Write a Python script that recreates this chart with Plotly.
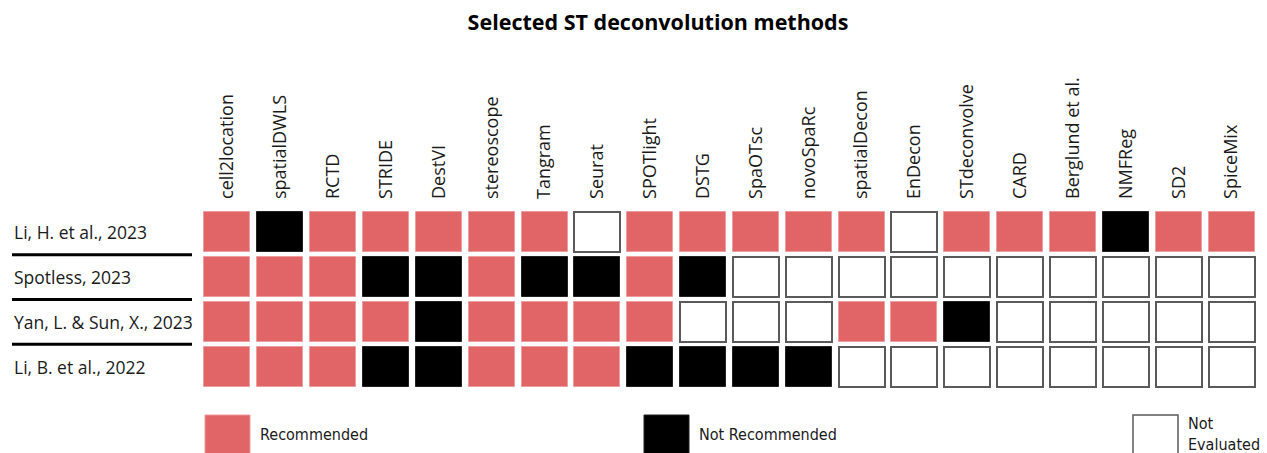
import plotly.graph_objects as go

# ---------------- data ----------------
methods = ["cell2location", "spatialDWLS", "RCTD", "STRIDE", "DestVI", "stereoscope",
           "Tangram", "Seurat", "SPOTlight", "DSTG", "SpaOTsc", "novoSpaRc",
           "spatialDecon", "EnDecon", "STdeconvolve", "CARD", "Berglund et al.",
           "NMFReg", "SD2", "SpiceMix"]
studies = ["Li, H. et al., 2023", "Spotless, 2023", "Yan, L. & Sun, X., 2023", "Li, B. et al., 2022"]
# R = Recommended, N = Not Recommended, E = Not Evaluated
status_li_h = ["R", "N", "R", "R", "R", "R", "R", "E", "R", "R", "R", "R", "R", "E", "R", "R", "R", "N", "R", "R"]
status_spotless = ["R", "R", "R", "N", "N", "R", "N", "N", "R", "N", "E", "E", "E", "E", "E", "E", "E", "E", "E", "E"]
status_yan_sun = ["R", "R", "R", "R", "N", "R", "R", "R", "R", "E", "E", "E", "R", "R", "N", "E", "E", "E", "E", "E"]
status_li_b = ["R", "R", "R", "N", "N", "R", "R", "R", "N", "N", "N", "N", "E", "E", "E", "E", "E", "E", "E", "E"]
status_rows = [status_li_h, status_spotless, status_yan_sun, status_li_b]
legend_labels = ["Recommended", "Not Recommended", "Not<br>Evaluated"]
legend_codes = ["R", "N", "E"]

# ---------------- style ----------------
RED = "#E16567"
FILL = {"R": RED, "N": "#000000", "E": "#FFFFFF"}
EDGE = {"R": "#EE9C9D", "N": "#222222", "E": "#5A5A5A"}
EDGE_W = {"R": 1, "N": 1, "E": 2}
TXT = "#1a1a1a"
FONT = "Open Sans, Noto Sans, sans-serif"
NARROW = "Liberation Sans Narrow, DejaVu Sans Condensed, Roboto, sans-serif"

W, H = 1267, 453
ML, MR, MT, MB = 201, 9, 210, 64
PW, PH = W - ML - MR, H - MT - MB

def px_x(px):
    return (px - ML) / PW

def px_y(py):
    return (H - MB - py) / PH

CELL_H = 0.89
CELL_W = 0.87

xs, bases, heights, fills, edges, ews = [], [], [], [], [], []
for r, row in enumerate(status_rows):
    for m, s in zip(methods, row):
        xs.append(m)
        bases.append(r - CELL_H / 2)
        heights.append(CELL_H)
        fills.append(FILL[s])
        edges.append(EDGE[s])
        ews.append(EDGE_W[s])

fig = go.Figure()
fig.add_trace(go.Bar(
    x=xs, y=heights, base=bases, width=CELL_W,
    marker=dict(color=fills, line=dict(color=edges, width=ews)),
    hoverinfo="skip", showlegend=False,
))

# row labels and separators
for r, name in enumerate(studies):
    fig.add_annotation(x=px_x(12), xref="paper", y=r, yref="y", text=name,
                       showarrow=False, xanchor="left", yanchor="middle",
                       font=dict(family=FONT, size=17.5, color=TXT))
for r in range(len(studies) - 1):
    fig.add_shape(type="line", xref="paper", yref="y", x0=px_x(12), x1=px_x(192),
                  y0=r + 0.5, y1=r + 0.5, line=dict(color="#000000", width=3))

# legend
leg_x = [205, 644, 1133]
for lx, code, lab in zip(leg_x, legend_codes, legend_labels):
    fig.add_shape(type="rect", xref="paper", yref="paper",
                  x0=px_x(lx), x1=px_x(lx + 45), y0=px_y(415), y1=px_y(460),
                  fillcolor=FILL[code], line=dict(color=EDGE[code], width=1.5 if code == "E" else 1))
    fig.add_annotation(x=px_x(lx + 53), xref="paper", y=px_y(434), yref="paper",
                       text=lab, showarrow=False, xanchor="left", yanchor="middle",
                       align="left", font=dict(family=NARROW, size=16, color=TXT))

fig.update_layout(
    width=W, height=H,
    margin=dict(l=ML, r=MR, t=MT, b=MB),
    paper_bgcolor="white", plot_bgcolor="white",
    title=dict(text="<b>Selected ST deconvolution methods</b>", x=px_x(658), xref="paper",
               xanchor="center", y=1 - 22 / H, yref="container", yanchor="middle",
               font=dict(family=FONT, size=21.5, color="#000000")),
    bargap=0,
    xaxis=dict(type="category", categoryorder="array", categoryarray=methods,
               side="top", tickangle=-90, showgrid=False, zeroline=False,
               showline=False, ticks="", ticklabelstandoff=10,
               range=[-0.5, len(methods) - 0.5],
               tickfont=dict(family=FONT, size=18, color=TXT)),
    yaxis=dict(range=[len(studies) - 0.5, -0.5], showgrid=False, zeroline=False,
               showline=False, showticklabels=False, ticks=""),
)

fig.write_html("out.html", config={"displayModeBar": False},
               post_script="document.body.style.margin='0px';document.body.style.overflow='hidden';")
